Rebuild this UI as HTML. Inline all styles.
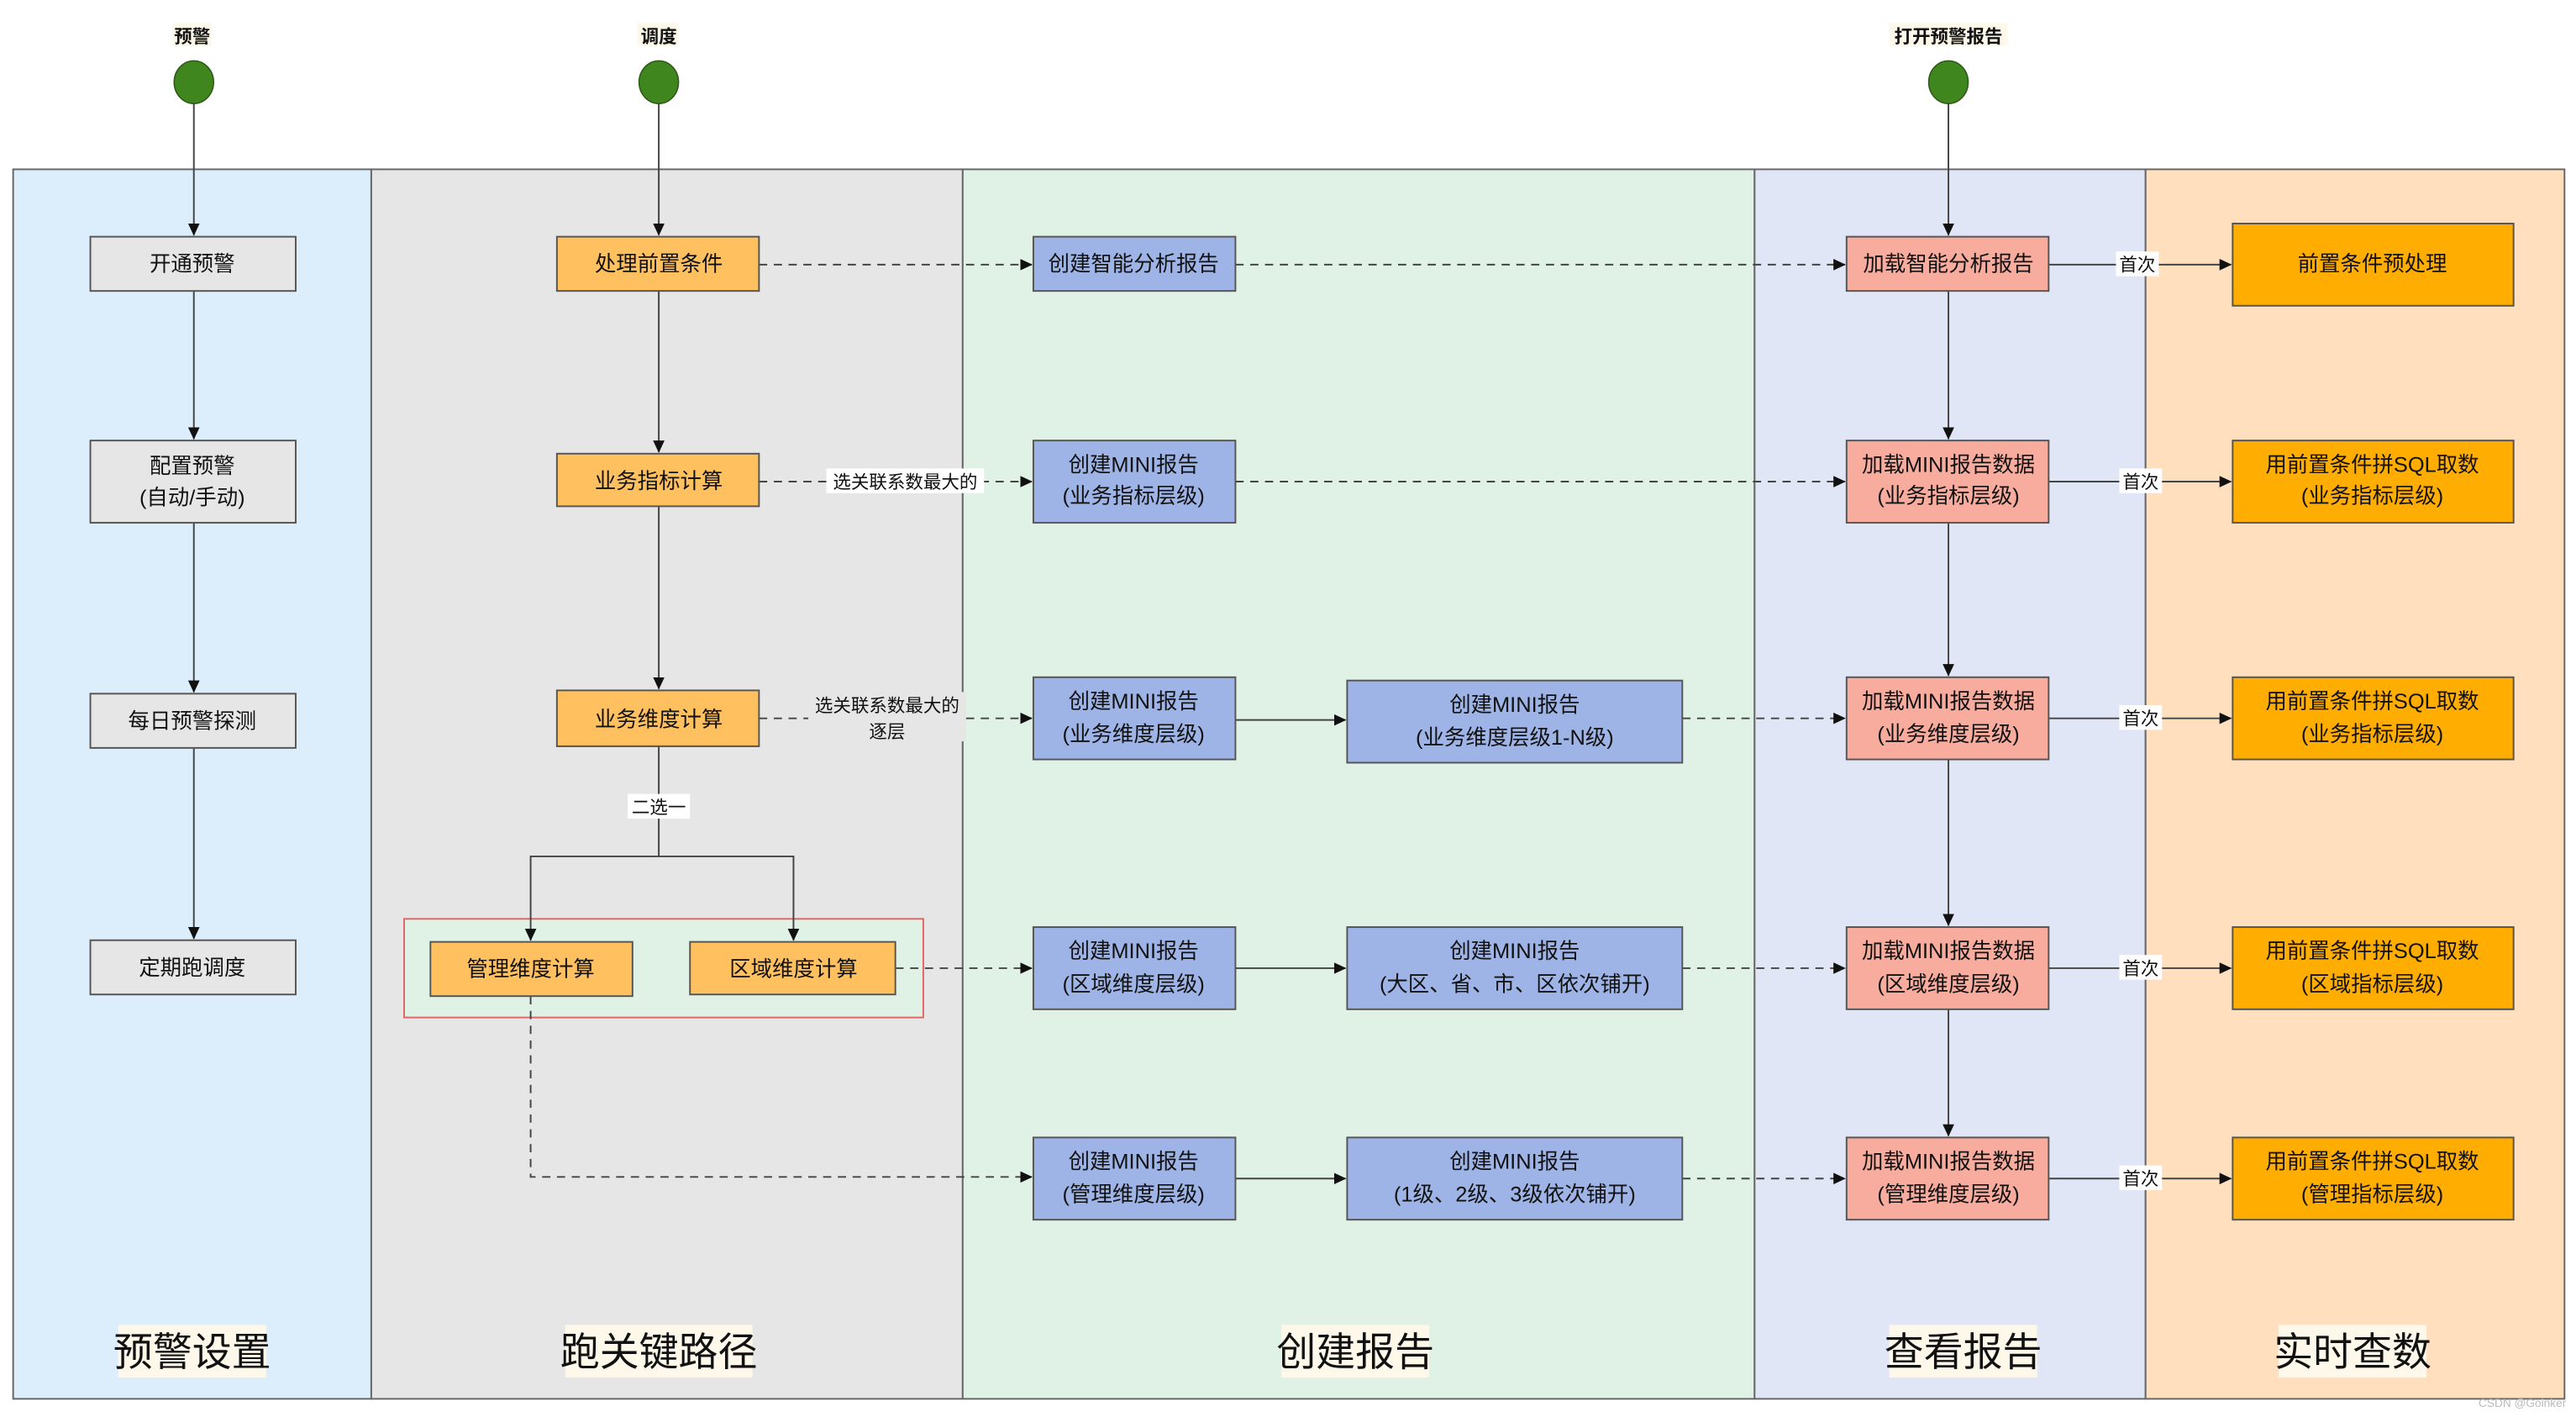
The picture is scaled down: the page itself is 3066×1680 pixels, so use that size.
<!DOCTYPE html>
<html><head><meta charset="utf-8"><style>html,body{margin:0;padding:0;background:#fff}svg{display:block}text{font-family:"Liberation Sans","Noto Sans CJK SC",sans-serif;fill:#111}</style></head><body>
<svg width="3066" height="1680" viewBox="0 0 1568 859" preserveAspectRatio="none" xmlns="http://www.w3.org/2000/svg">
<defs><marker id="a" markerWidth="8" markerHeight="8" refX="7" refY="4" orient="auto" markerUnits="userSpaceOnUse"><path d="M0,0.5 L7.5,4 L0,7.5z" fill="#111"/></marker></defs>
<rect x="0" y="0" width="1568" height="859" fill="#fff"/>
<rect x="8" y="103" width="218" height="748" fill="#dcedfb" stroke="#666"/>
<rect x="226" y="103" width="360" height="748" fill="#e6e6e6" stroke="#666"/>
<rect x="586" y="103" width="482" height="748" fill="#e0f1e6" stroke="#666"/>
<rect x="1068" y="103" width="238" height="748" fill="#e1e6f7" stroke="#666"/>
<rect x="1306" y="103" width="255" height="748" fill="#ffdfbd" stroke="#666"/>
<g font-size="24" text-anchor="middle">
<rect x="72" y="806" width="90" height="32" fill="#fdf8ea"/><text x="117" y="831">预警设置</text>
<rect x="344" y="806" width="114" height="32" fill="#fdf8ea"/><text x="401" y="831">跑关键路径</text>
<rect x="780" y="806" width="90" height="32" fill="#fdf8ea"/><text x="825" y="831">创建报告</text>
<rect x="1150" y="806" width="90" height="32" fill="#fdf8ea"/><text x="1195" y="831">查看报告</text>
<rect x="1387" y="806" width="90" height="32" fill="#fdf8ea"/><text x="1432" y="831">实时查数</text>
</g>
<g font-size="11" font-weight="bold" text-anchor="middle">
<rect x="105" y="14" width="24" height="14" fill="#fdf8ea"/><text x="117" y="26">预警</text>
<rect x="388" y="14" width="25" height="14" fill="#fdf8ea"/><text x="401" y="26">调度</text>
<rect x="1150" y="14" width="72" height="14" fill="#fdf8ea"/><text x="1186" y="26">打开预警报告</text>
</g>
<g fill="#3f861f" stroke="#2d5a17" stroke-width="0.8">
<ellipse cx="118" cy="50" rx="12" ry="13"/><ellipse cx="401" cy="50" rx="12" ry="13"/><ellipse cx="1186" cy="50" rx="12" ry="13"/>
</g>
<rect x="246" y="559" width="316" height="60" fill="#e0f1e6" stroke="#e06666"/>
<g stroke="#444" stroke-width="1" fill="none" marker-end="url(#a)">
<path d="M118 63V143"/><path d="M118 177V267"/><path d="M118 318V421"/><path d="M118 455V571"/>
<path d="M401 63V143"/><path d="M401 177V275"/><path d="M401 308V419"/>
<path d="M401 454V521H323V572"/><path d="M401 521H483V572"/>
<path d="M1186 63V143"/><path d="M1186 177V267"/><path d="M1186 318V411"/><path d="M1186 462V563"/><path d="M1186 614V691"/>
<path d="M752 438H819"/><path d="M752 589H819"/><path d="M752 717H819"/>
<path d="M1247 161H1358"/><path d="M1247 293H1358"/><path d="M1247 437H1358"/><path d="M1247 589H1358"/><path d="M1247 717H1358"/>
</g>
<g stroke="#444" stroke-width="1" fill="none" stroke-dasharray="5,4" marker-end="url(#a)">
<path d="M462 161H628"/><path d="M752 161H1123"/>
<path d="M462 293H628"/><path d="M752 293H1123"/>
<path d="M462 437H628"/><path d="M1024 437H1123"/>
<path d="M545 589H628"/><path d="M1024 589H1123"/>
<path d="M323 606V716H628"/><path d="M1024 717H1123"/>
</g>
<g font-size="11" text-anchor="middle">
<rect x="503" y="285" width="96" height="15" fill="#fff"/><text x="551" y="297">选关联系数最大的</text>
<rect x="492" y="421" width="96" height="30" fill="#e6e6e6"/><text x="540" y="433">选关联系数最大的</text><text x="540" y="449">逐层</text>
<rect x="382" y="483" width="38" height="15" fill="#fff"/><text x="401" y="495">二选一</text>
<rect x="1288" y="153" width="26" height="15" fill="#fff"/><text x="1301" y="165">首次</text>
<rect x="1290" y="285" width="26" height="15" fill="#fff"/><text x="1303" y="297">首次</text>
<rect x="1290" y="429" width="26" height="15" fill="#fff"/><text x="1303" y="441">首次</text>
<rect x="1290" y="581" width="26" height="15" fill="#fff"/><text x="1303" y="593">首次</text>
<rect x="1290" y="709" width="26" height="15" fill="#fff"/><text x="1303" y="721">首次</text>
</g>
<g stroke="#555" stroke-width="1" font-size="13" text-anchor="middle">
<rect x="55" y="144" width="125" height="33" fill="#e6e6e6"/>
<rect x="55" y="268" width="125" height="50" fill="#e6e6e6"/>
<rect x="55" y="422" width="125" height="33" fill="#e6e6e6"/>
<rect x="55" y="572" width="125" height="33" fill="#e6e6e6"/>
<rect x="339" y="144" width="123" height="33" fill="#ffc060"/>
<rect x="339" y="276" width="123" height="32" fill="#ffc060"/>
<rect x="339" y="420" width="123" height="34" fill="#ffc060"/>
<rect x="262" y="573" width="123" height="33" fill="#ffc060"/>
<rect x="420" y="573" width="125" height="32" fill="#ffc060"/>
<rect x="629" y="144" width="123" height="33" fill="#9fb4e6"/>
<rect x="629" y="268" width="123" height="50" fill="#9fb4e6"/>
<rect x="629" y="412" width="123" height="50" fill="#9fb4e6"/>
<rect x="629" y="564" width="123" height="50" fill="#9fb4e6"/>
<rect x="629" y="692" width="123" height="50" fill="#9fb4e6"/>
<rect x="820" y="414" width="204" height="50" fill="#9fb4e6"/>
<rect x="820" y="564" width="204" height="50" fill="#9fb4e6"/>
<rect x="820" y="692" width="204" height="50" fill="#9fb4e6"/>
<rect x="1124" y="144" width="123" height="33" fill="#f8ac9e"/>
<rect x="1124" y="268" width="123" height="50" fill="#f8ac9e"/>
<rect x="1124" y="412" width="123" height="50" fill="#f8ac9e"/>
<rect x="1124" y="564" width="123" height="50" fill="#f8ac9e"/>
<rect x="1124" y="692" width="123" height="50" fill="#f8ac9e"/>
<rect x="1359" y="136" width="171" height="50" fill="#ffad00"/>
<rect x="1359" y="268" width="171" height="50" fill="#ffad00"/>
<rect x="1359" y="412" width="171" height="50" fill="#ffad00"/>
<rect x="1359" y="564" width="171" height="50" fill="#ffad00"/>
<rect x="1359" y="692" width="171" height="50" fill="#ffad00"/>
</g>
<g font-size="13" text-anchor="middle">
<text x="117" y="165">开通预警</text>
<text x="117" y="288">配置预警</text><text x="117" y="307">(自动/手动)</text>
<text x="117" y="443">每日预警探测</text>
<text x="117" y="593">定期跑调度</text>
<text x="401" y="165">处理前置条件</text>
<text x="401" y="297">业务指标计算</text>
<text x="401" y="442">业务维度计算</text>
<text x="323" y="594">管理维度计算</text>
<text x="483" y="594">区域维度计算</text>
<text x="690" y="165">创建智能分析报告</text>
<text x="690" y="287">创建MINI报告</text><text x="690" y="306">(业务指标层级)</text>
<text x="690" y="431">创建MINI报告</text><text x="690" y="451">(业务维度层级)</text>
<text x="690" y="583">创建MINI报告</text><text x="690" y="603">(区域维度层级)</text>
<text x="690" y="711">创建MINI报告</text><text x="690" y="731">(管理维度层级)</text>
<text x="922" y="433">创建MINI报告</text><text x="922" y="453">(业务维度层级1-N级)</text>
<text x="922" y="583">创建MINI报告</text><text x="922" y="603">(大区、省、市、区依次铺开)</text>
<text x="922" y="711">创建MINI报告</text><text x="922" y="731">(1级、2级、3级依次铺开)</text>
<text x="1186" y="165">加载智能分析报告</text>
<text x="1186" y="287">加载MINI报告数据</text><text x="1186" y="306">(业务指标层级)</text>
<text x="1186" y="431">加载MINI报告数据</text><text x="1186" y="451">(业务维度层级)</text>
<text x="1186" y="583">加载MINI报告数据</text><text x="1186" y="603">(区域维度层级)</text>
<text x="1186" y="711">加载MINI报告数据</text><text x="1186" y="731">(管理维度层级)</text>
<text x="1444" y="165">前置条件预处理</text>
<text x="1444" y="287">用前置条件拼SQL取数</text><text x="1444" y="306">(业务指标层级)</text>
<text x="1444" y="431">用前置条件拼SQL取数</text><text x="1444" y="451">(业务指标层级)</text>
<text x="1444" y="583">用前置条件拼SQL取数</text><text x="1444" y="603">(区域指标层级)</text>
<text x="1444" y="711">用前置条件拼SQL取数</text><text x="1444" y="731">(管理指标层级)</text>
</g>
<text x="1562" y="856" font-size="7" text-anchor="end" fill="#bbb" style="fill:#bbb">CSDN @Goinker</text>
</svg>
</body></html>
